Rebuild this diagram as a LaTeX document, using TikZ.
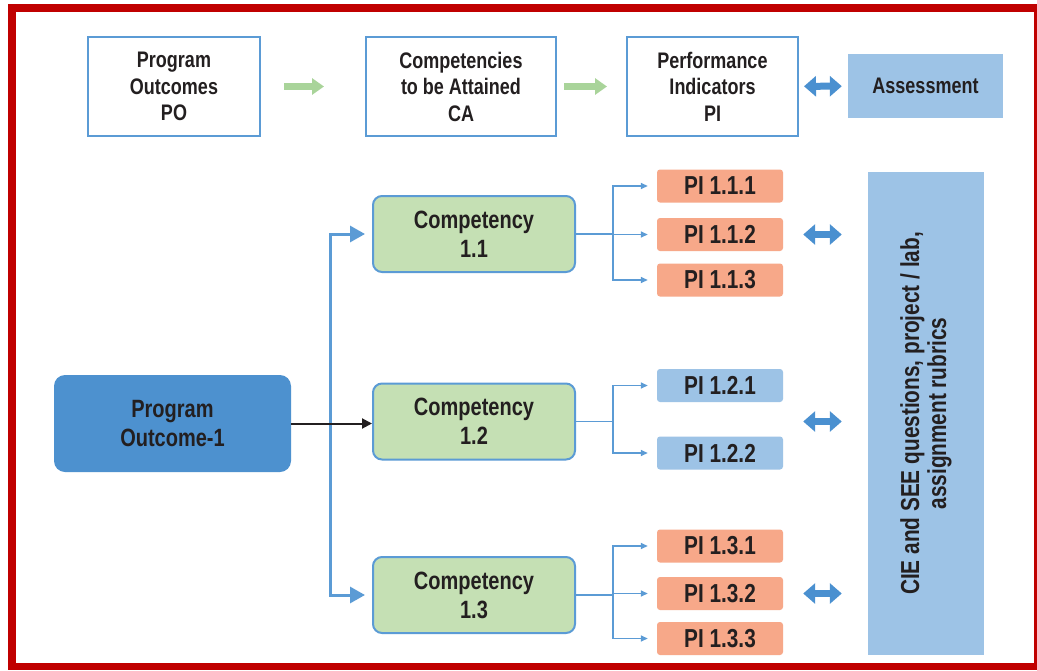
\documentclass[tikz,border=0pt]{standalone}
\usepackage{fontspec}
\setmainfont{Liberation Sans}[FakeStretch=0.8]
\usetikzlibrary{arrows.meta}
\definecolor{frame}{HTML}{C00000}
\definecolor{edge}{HTML}{5B9BD5}
\definecolor{pofill}{HTML}{4D91CF}
\definecolor{compfill}{HTML}{C5E0B4}
\definecolor{pired}{HTML}{F7A889}
\definecolor{piblue}{HTML}{9DC3E6}
\definecolor{ink}{HTML}{231F20}
\definecolor{flowgreen}{HTML}{A9D49A}
\definecolor{twowayblue}{HTML}{4A90D0}
\begin{document}
\begin{tikzpicture}[x=1pt,y=-1pt,
  every node/.style={text=ink,align=center,inner sep=0pt},
  headbox/.style={draw=edge,line width=2pt,fill=white,minimum height=99pt,
    font=\fontsize{22.5}{26.5}\selectfont\bfseries},
  compbox/.style={draw=edge,line width=2pt,fill=compfill,rounded corners=9pt,
    minimum width=202pt,minimum height=76pt,font=\fontsize{25}{29}\selectfont\bfseries},
  pibox/.style={fill=#1,rounded corners=3pt,minimum width=126pt,minimum height=33pt,
    font=\fontsize{26}{28}\selectfont\bfseries},
  flow/.style={draw=flowgreen,line width=7pt,-{Triangle[length=12pt,width=16pt]}},
  twoway/.style={draw=twowayblue,line width=7pt,
    {Triangle[length=12pt,width=20pt]}-{Triangle[length=12pt,width=20pt]}},
  trunk/.style={draw=edge,line width=3pt,
    {Triangle[length=15pt,width=16pt]}-{Triangle[length=15pt,width=16pt]},
    shorten <=7pt,shorten >=7pt},
  branch/.style={draw=edge,line width=1.5pt,-{Triangle[length=7pt,width=6pt]},shorten >=9pt}]
\useasboundingbox (0,0) rectangle (1037,670);
\fill[frame] (8,4) rectangle (1037,670);
\fill[white] (16,12) rectangle (1034,663);

\node[headbox,minimum width=172pt] (po) at (174,86.5) {Program\\Outcomes\\PO};
\node[headbox,minimum width=190pt] (ca) at (461,86.5) {Competencies\\to be Attained\\CA};
\node[headbox,minimum width=171pt] (pind) at (712.5,86.5) {Performance\\Indicators\\PI};
\node[fill=piblue,minimum width=155pt,minimum height=64pt,
  font=\fontsize{22.5}{26}\selectfont\bfseries] (assess) at (925.5,86) {Assessment};
\draw[flow,shorten <=23pt,shorten >=41pt] (po) -- (ca);
\draw[flow,shorten <=7pt,shorten >=19pt] (ca) -- (pind);
\draw[twoway,shorten <=5pt,shorten >=6pt] (pind) -- (assess);

\node[fill=pofill,rounded corners=11pt,minimum width=237pt,minimum height=97pt,
  font=\fontsize{25}{29}\selectfont\bfseries] (po1) at (172.5,423.5) {Program\\Outcome-1};
\node[compbox] (c11) at (474,234) {Competency\\1.1};
\node[compbox] (c12) at (474,421.5) {Competency\\1.2};
\node[compbox] (c13) at (474,595) {Competency\\1.3};

\node[pibox=pired] (pi111) at (720,186) {PI 1.1.1};
\node[pibox=pired] (pi112) at (720,234.5) {PI 1.1.2};
\node[pibox=pired] (pi113) at (720,280) {PI 1.1.3};
\node[pibox=piblue] (pi121) at (720,385.5) {PI 1.2.1};
\node[pibox=piblue] (pi122) at (720,453) {PI 1.2.2};
\node[pibox=pired] (pi131) at (720,546) {PI 1.3.1};
\node[pibox=pired] (pi132) at (720,593.5) {PI 1.3.2};
\node[pibox=pired] (pi133) at (720,638.5) {PI 1.3.3};

\node[fill=piblue,rotate=90,minimum width=483pt,minimum height=116pt,
  font=\fontsize{26}{27}\selectfont\bfseries] (cie) at (926,413.5)
  {CIE and SEE questions, project / lab,\\assignment rubrics};

\coordinate (split) at (330,414);
\draw[trunk] (c11.west) -| (split) |- (c13.west);
\draw[ink,line width=2pt,-{Triangle[length=10pt,width=10pt]}] (po1.east) -- (po1.east -| c12.west);
\foreach \c/\p in {c11/pi111,c11/pi112,c11/pi113,c12/pi121,c12/pi122,c13/pi131,c13/pi132,c13/pi133}
  \draw[branch] (\c.east) -| ([xshift=-44pt]\p.west) -- (\p.west);
\foreach \a in {pi112,pi132}
  \draw[twoway,shorten <=20pt,shorten >=26pt] (\a.east) -- (\a.east -| cie.north);
\draw[twoway,shorten <=20pt,shorten >=26pt] (c12.east -| pi121.east) -- (c12.east -| cie.north);
\end{tikzpicture}
\end{document}
